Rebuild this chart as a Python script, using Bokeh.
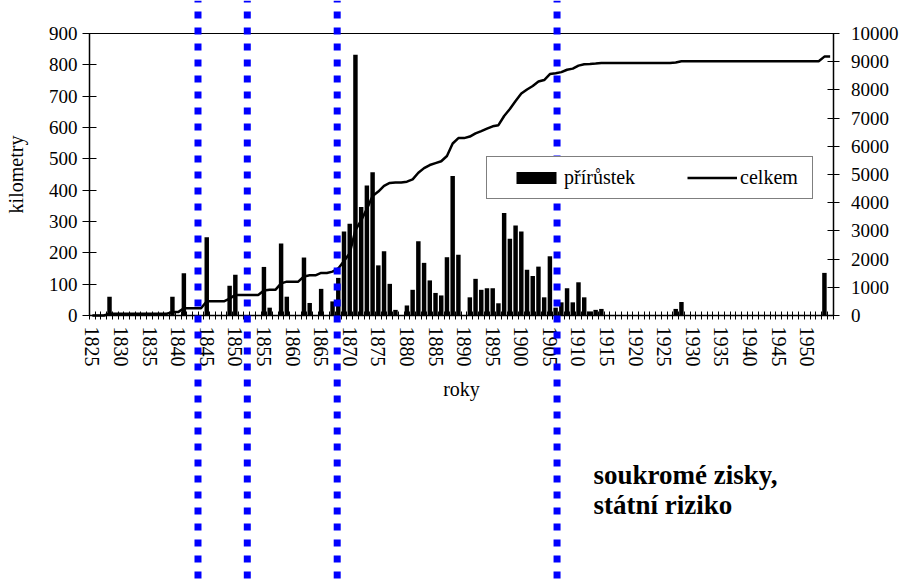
from bokeh.plotting import figure
from bokeh.models import (Range1d, LinearAxis, FixedTicker, Span, Legend,
                          LegendItem, Label, ColumnDataSource)
from bokeh.core.properties import value
from bokeh.embed import file_html
from bokeh.resources import INLINE

# ---------------- data ----------------
years = list(range(1825, 1955))
increment_km = [
    0, 0, 0, 60, 0, 0, 0, 0, 0, 0,            # 1825-1834
    0, 0, 0, 0, 60, 0, 135, 0, 0, 0,          # 1835-1844
    250, 0, 0, 0, 95, 130, 0, 0, 0, 0,        # 1845-1854
    155, 25, 0, 230, 60, 0, 0, 185, 40, 0,    # 1855-1864
    85, 0, 45, 120, 268, 293, 832, 346, 415, 457,   # 1865-1874
    160, 205, 101, 18, 0, 32, 82, 237, 168, 112,    # 1875-1884
    72, 64, 186, 445, 194, 0, 58, 117, 82, 87,      # 1885-1894
    87, 39, 327, 245, 287, 268, 146, 126, 156, 58,  # 1895-1904
    189, 25, 42, 87, 42, 106, 58, 13, 18, 21,       # 1905-1914
    0, 0, 0, 0, 0, 0, 0, 0, 0, 0,             # 1915-1924
    0, 0, 21, 43, 0, 0, 0, 0, 0, 0,           # 1925-1934
    0, 0, 0, 0, 0, 0, 0, 0, 0, 0,             # 1935-1944
    0, 0, 0, 0, 0, 0, 0, 0, 136, 0,           # 1945-1954
]
total_km = [
    0, 0, 0, 60, 60, 60, 60, 60, 60, 60,
    60, 60, 60, 60, 120, 120, 255, 255, 255, 255,
    505, 505, 505, 505, 600, 730, 730, 730, 730, 730,
    885, 910, 910, 1140, 1200, 1200, 1200, 1385, 1425, 1425,
    1510, 1510, 1555, 1670, 1930, 2210, 3030, 3370, 3780, 4235,
    4395, 4600, 4700, 4715, 4715, 4745, 4825, 5060, 5225, 5335,
    5405, 5470, 5655, 6100, 6290, 6290, 6345, 6460, 6540, 6625,
    6710, 6750, 7075, 7320, 7605, 7870, 8015, 8140, 8295, 8350,
    8560, 8590, 8630, 8715, 8755, 8860, 8910, 8920, 8935, 8955,
    8955, 8955, 8955, 8955, 8955, 8955, 8955, 8955, 8955, 8955,
    8955, 8955, 8975, 9015, 9015, 9015, 9015, 9015, 9015, 9015,
    9015, 9015, 9015, 9015, 9015, 9015, 9015, 9015, 9015, 9015,
    9015, 9015, 9015, 9015, 9015, 9015, 9015, 9015, 9180, 9180,
]
tick_years = list(range(1825, 1951, 5))
km_ticks = list(range(0, 901, 100))
total_ticks = list(range(0, 10001, 1000))
epoch_marks = [1843.47, 1852.09, 1867.81, 1906.25]

# ---------------- layout ----------------
FONT = "Liberation Serif"
W, H = 901, 583
X0, X1 = years[0] - 0.5, years[-1] + 0.5
KM_MAX, TOT_MAX = 900, 10000
left_px, right_px, top_px, bottom_px = 89.0, 832.5, 33.0, 315.0

sx = (right_px - left_px) / (X1 - X0)
x_start = X0 - left_px / sx
x_end = X1 + (W - right_px) / sx
ky = (bottom_px - top_px) / KM_MAX
y_end = KM_MAX + top_px / ky
y_start = -(H - bottom_px) / ky
ratio = TOT_MAX / KM_MAX

p = figure(width=W, height=H, x_range=Range1d(x_start, x_end),
           y_range=Range1d(y_start, y_end),
           x_axis_location=None, y_axis_location=None,
           toolbar_location=None, output_backend="svg",
           min_border=0, outline_line_color=None)
p.extra_y_ranges = {"celkem": Range1d(y_start * ratio, y_end * ratio)}
for g in p.grid:
    g.visible = False

src = ColumnDataSource(dict(year=years, inc=increment_km, tot=total_km))
bars = p.vbar(x="year", top="inc", bottom=0, width=0.78, source=src,
              fill_color="black", line_color=None)
line = p.line(x="year", y="tot", source=src, y_range_name="celkem",
              line_color="black", line_width=2.5)


def style(ax, size):
    ax.axis_line_color = "black"
    ax.axis_line_width = 1.5
    ax.major_label_text_font = FONT
    ax.major_label_text_font_size = size
    ax.major_label_text_color = "black"
    ax.axis_label_text_font = FONT
    ax.axis_label_text_font_size = "20px"
    ax.axis_label_text_font_style = "normal"
    ax.axis_label_text_color = "black"
    ax.major_tick_line_color = "black"
    ax.minor_tick_line_color = None


left = LinearAxis(fixed_location=X0, bounds=(0, KM_MAX),
                  ticker=FixedTicker(ticks=km_ticks), axis_label="kilometry")
style(left, "19px")
left.major_tick_in = 7
left.major_tick_out = 7
left.major_label_standoff = 5
left.axis_label_standoff = 19
p.add_layout(left, "left")

right = LinearAxis(y_range_name="celkem", fixed_location=X1, bounds=(0, TOT_MAX),
                   ticker=FixedTicker(ticks=total_ticks))
style(right, "19px")
right.major_tick_in = 6
right.major_tick_out = 6
right.major_label_standoff = 12
p.add_layout(right, "right")

bottom = LinearAxis(fixed_location=0, bounds=(X0, X1),
                    ticker=FixedTicker(ticks=tick_years,
                                       minor_ticks=[y - 0.5 for y in years] + [X1]),
                    axis_label="roky", major_label_orientation="vertical")
style(bottom, "20px")
bottom.major_tick_line_color = None
bottom.major_tick_in = 0
bottom.major_tick_out = 0
bottom.minor_tick_line_color = "black"
bottom.minor_tick_in = 4
bottom.minor_tick_out = 4
bottom.major_label_standoff = 7
bottom.axis_label_standoff = 8
p.add_layout(bottom, "below")

top = LinearAxis(fixed_location=KM_MAX, bounds=(X0, X1), ticker=FixedTicker(ticks=[]))
top.axis_line_color = "black"
top.axis_line_width = 1
top.major_tick_line_color = None
top.minor_tick_line_color = None
top.major_label_text_color = None
p.add_layout(top, "above")

for m in epoch_marks:
    p.add_layout(Span(location=m, dimension="height", line_color="#0000FF",
                      line_width=7, line_dash="7 9", line_dash_offset=5))

legend = Legend(items=[LegendItem(label=value("přírůstek"), renderers=[bars]),
                       LegendItem(label=value("celkem"), renderers=[line])],
                orientation="horizontal", location=(486, 384), margin=0,
                padding=9, spacing=52, glyph_width=50, glyph_height=15,
                label_standoff=3, label_width=63,
                label_text_font=FONT, label_text_font_size="20px",
                label_text_color="black",
                border_line_color="black", border_line_width=1,
                background_fill_color="white", background_fill_alpha=1,
                title=" ", title_location="left", title_text_font_size="8px",
                title_standoff=6)
p.add_layout(legend)

for txt, yb in (("soukromé zisky,", 109), ("státní riziko", 79)):
    p.add_layout(Label(x=593, y=yb, x_units="screen", y_units="screen", text=txt,
                       text_font=FONT, text_font_size="27px",
                       text_font_style="bold", text_color="black",
                       text_baseline="alphabetic"))

open("out.html", "w").write(file_html(p, INLINE))
